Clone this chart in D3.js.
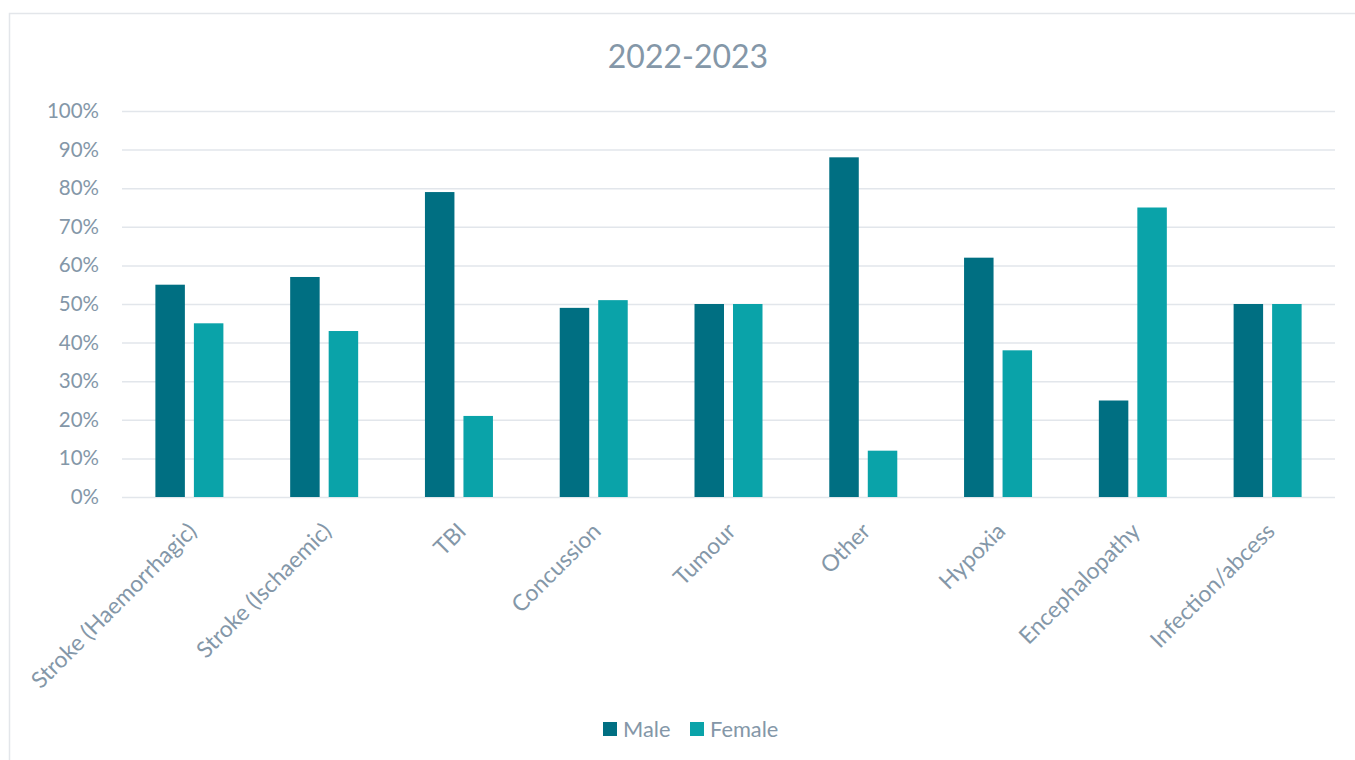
<!DOCTYPE html>
<html>
<head>
<meta charset="utf-8">
<script src="https://cdn.jsdelivr.net/npm/d3@7"></script>
<style>
  html, body { margin: 0; padding: 0; background: #ffffff; }
  svg { display: block; font-family: Lato, "Open Sans", sans-serif; }
</style>
</head>
<body>
<svg id="chart" width="1355" height="760"></svg>
<script>
// Share of patients by sex for each diagnosis group, 2022-2023
const title = "2022-2023";
const categories = [
  "Stroke (Haemorrhagic)", "Stroke (Ischaemic)", "TBI", "Concussion", "Tumour",
  "Other", "Hypoxia", "Encephalopathy", "Infection/abcess"
];
const seriesNames = ["Male", "Female"];
const maleValues   = [55, 57, 79, 49, 50, 88, 62, 25, 50];
const femaleValues = [45, 43, 21, 51, 50, 12, 38, 75, 50];
const yTicks = [0, 10, 20, 30, 40, 50, 60, 70, 80, 90, 100];

const colors = { Male: "#006f82", Female: "#0aa3a9" };
const textColor = "#8497a8";
const gridColor = "#e2e6eb";

const svg = d3.select("#chart");

// Outer chart frame
svg.append("rect")
  .attr("x", 9.5).attr("y", 13.5)
  .attr("width", 1400).attr("height", 800)
  .attr("fill", "none")
  .attr("stroke", "#e3e6ea")
  .attr("stroke-width", 1.5);

const plot = { left: 122, right: 1335, top: 111, bottom: 497 };

const x0 = d3.scaleBand().domain(categories).range([plot.left, plot.right]).padding(0);
const groupW = 68;
const x1 = d3.scaleBand().domain(seriesNames).range([0, groupW]).paddingInner(0.234).paddingOuter(0);
const y = d3.scaleLinear().domain([0, 100]).range([plot.bottom, plot.top]);

// Title
svg.append("text")
  .attr("x", 688).attr("y", 68)
  .attr("text-anchor", "middle")
  .attr("fill", textColor)
  .attr("font-size", 32)
  .text(title);

// Horizontal gridlines + y tick labels
const yAxis = d3.axisLeft(y)
  .tickValues(yTicks)
  .tickSize(-(plot.right - plot.left))
  .tickPadding(23)
  .tickFormat(d => d + "%");

const gy = svg.append("g")
  .attr("transform", `translate(${plot.left},0)`)
  .call(yAxis);
gy.select(".domain").remove();
gy.selectAll(".tick line")
  .attr("stroke", gridColor)
  .attr("stroke-width", 1.5);
gy.selectAll(".tick text")
  .attr("fill", textColor)
  .attr("font-size", 20.5)
  .attr("font-family", "Lato, sans-serif");

// Bars
const rows = categories.map((c, i) => ({ category: c, Male: maleValues[i], Female: femaleValues[i] }));

const groups = svg.append("g").selectAll("g")
  .data(rows)
  .join("g")
  .attr("transform", d => `translate(${x0(d.category) + x0.bandwidth() / 2 - groupW / 2},0)`);

groups.selectAll("rect")
  .data(d => seriesNames.map(s => ({ key: s, value: d[s] })))
  .join("rect")
  .attr("x", d => x1(d.key))
  .attr("y", d => y(d.value))
  .attr("width", x1.bandwidth())
  .attr("height", d => y(0) - y(d.value))
  .attr("fill", d => colors[d.key]);

// Category labels on the x axis, rotated
const xAxis = d3.axisBottom(x0).tickSize(0).tickPadding(0);
const gx = svg.append("g")
  .attr("transform", `translate(0,${plot.bottom})`)
  .call(xAxis);
gx.select(".domain").remove();
gx.selectAll(".tick text")
  .attr("fill", textColor)
  .attr("font-size", 22.8)
  .attr("font-family", "Lato, sans-serif")
  .attr("text-anchor", "end")
  .attr("dy", "0.35em")
  .attr("transform", "translate(3,30) rotate(-45)");

// Legend
const legend = svg.append("g");
const legendItems = [
  { key: "Male", sx: 603, tx: 623 },
  { key: "Female", sx: 690, tx: 710 }
];
legend.selectAll("rect")
  .data(legendItems)
  .join("rect")
  .attr("x", d => d.sx).attr("y", 722)
  .attr("width", 14).attr("height", 14)
  .attr("fill", d => colors[d.key]);
legend.selectAll("text")
  .data(legendItems)
  .join("text")
  .attr("x", d => d.tx).attr("y", 736.5)
  .attr("fill", textColor)
  .attr("font-size", 21.8)
  .text(d => d.key);
</script>
</body>
</html>
